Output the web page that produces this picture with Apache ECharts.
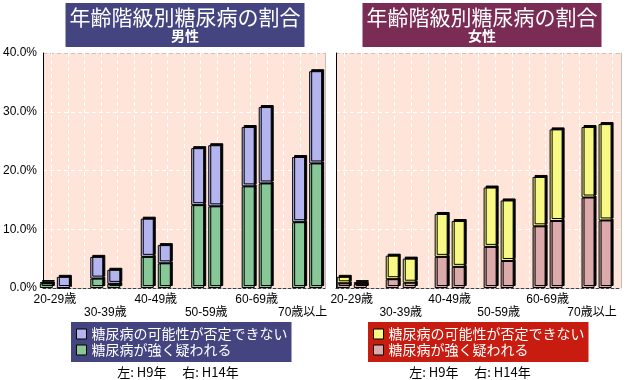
<!DOCTYPE html>
<html>
<head>
<meta charset="utf-8">
<script src="https://cdn.jsdelivr.net/npm/echarts@6/dist/echarts.min.js"></script>
<style>
html,body{margin:0;padding:0;background:#fff;}
#chart{width:628px;height:380px;}
</style>
</head>
<body>
<div id="chart"></div>
<script>
// ---- data (percent) ----
const categories = ['20-29歳', '30-39歳', '40-49歳', '50-59歳', '60-69歳', '70歳以上'];
const yTicks = [0, 10, 20, 30, 40];
// male (男性)
const maleStrongH9 = [0.8, 1.6, 5.3, 14.1, 17.3, 11.2];
const maleNotDeniedH9 = [0.2, 3.7, 6.5, 9.7, 10.1, 11.1];
const maleStrongH14 = [0, 0.7, 4.2, 13.9, 17.8, 21.2];
const maleNotDeniedH14 = [1.9, 2.4, 3.1, 10.4, 13.0, 15.7];
// female (女性)
const femaleStrongH9 = [0.8, 1.5, 5.3, 7.0, 10.5, 15.4];
const femaleNotDeniedH9 = [1.1, 4.0, 7.3, 10.1, 8.4, 12.0];
const femaleStrongH14 = [0.7, 0.9, 3.6, 4.6, 11.4, 11.5];
const femaleNotDeniedH14 = [0.3, 4.1, 7.8, 10.3, 15.6, 16.4];

const NAME_POSSIBLE = '糖尿病の可能性が否定できない';
const NAME_STRONG = '糖尿病が強く疑われる';
const TITLE = '年齢階級別糖尿病の割合';

const C = {
  bg: '#ffe4da',
  blue: '#b4b4ee',
  green: '#88c898',
  yellow: '#f8f884',
  pink: '#dcaaaa',
  boxBlue: '#444480',
  boxTitleRed: '#7a2c55',
  boxLegendRed: '#c81c10'
};
const FONT = "'Liberation Sans', 'Noto Sans CJK JP', sans-serif";
const JFONT = "'Noto Sans CJK JP', sans-serif";

const chart = echarts.init(document.getElementById('chart'), null, {renderer: 'canvas'});

function bgGrid(left, width) {
  return {left: left, top: 53, width: width, height: 235, show: true, backgroundColor: C.bg, borderWidth: 0, containLabel: false};
}
function barGrid(left, width) {
  return {left: left, top: 53, width: width, height: 235, show: false, containLabel: false};
}
function bgXAxis(gridIndex) {
  return {
    type: 'value', gridIndex: gridIndex, min: 0, max: 34, interval: 1,
    axisLabel: {show: false}, axisTick: {show: false},
    axisLine: {show: true, lineStyle: {color: '#404040', type: [3, 2], width: 1}},
    splitLine: {show: true, lineStyle: {color: ['rgba(0,0,0,0)', '#ffffff'], type: [4, 3], width: 1}}
  };
}
function barXAxis(gridIndex) {
  return {
    type: 'category', gridIndex: gridIndex, data: categories,
    axisLine: {show: false}, axisTick: {show: false},
    axisLabel: {
      interval: 0, margin: 5, fontSize: 12, lineHeight: 13, color: '#000', fontFamily: FONT,
      formatter: function (v, i) {
        const t = (i === categories.length - 1) ? '{s|' + v + '}' : v;
        return i % 2 ? '\n' + t : t;
      },
      rich: {s: {fontSize: 12, lineHeight: 13, color: '#000', fontFamily: FONT, padding: [0, 9, 0, 0]}}
    }
  };
}
function bgYAxis(gridIndex, labels) {
  return {
    type: 'value', gridIndex: gridIndex, min: yTicks[0], max: yTicks[yTicks.length - 1], interval: 10,
    axisLine: {show: true, lineStyle: {color: '#000', width: 1}},
    axisTick: {show: false},
    axisLabel: {show: labels, margin: 6, fontSize: 12, color: '#000', fontFamily: FONT,
      formatter: function (v) { return v.toFixed(1) + '%'; }},
    splitLine: {show: true, lineStyle: {color: ['rgba(0,0,0,0)', '#ffffff', '#ffffff', '#ffffff', '#c4c4c4'], type: [4, 3], width: 1}}
  };
}
function borderYAxis(gridIndex) {
  return {
    type: 'value', gridIndex: gridIndex, position: 'right', min: 0, max: 40, interval: 10,
    axisLine: {show: true, lineStyle: {color: '#c0c0c0', width: 1}},
    axisTick: {show: false}, axisLabel: {show: false}, splitLine: {show: false}
  };
}
function hiddenYAxis(gridIndex) {
  return {type: 'value', gridIndex: gridIndex, min: 0, max: 40, show: false, splitLine: {show: false}};
}

const barStyleBase = {borderColor: '#000', borderWidth: 1, shadowColor: '#000', shadowBlur: 0, shadowOffsetX: 2, shadowOffsetY: -2};
function barSeries(name, data, stack, color, xi, yi) {
  return {
    name: name, type: 'bar', stack: stack, data: data,
    xAxisIndex: xi, yAxisIndex: yi,
    barWidth: 13, barGap: '31%',
    itemStyle: Object.assign({color: color}, barStyleBase),
    emphasis: {disabled: true},
    animation: false
  };
}

const legendItemStyle = {borderColor: '#000', borderWidth: 1, shadowBlur: 0, shadowOffsetX: 0, shadowOffsetY: 0, shadowColor: 'rgba(0,0,0,0)'};
function legend(left, bg, cPossible, cStrong) {
  return {
    orient: 'vertical', left: left, top: 322,
    backgroundColor: bg, padding: [5, 4, 5, 5],
    itemWidth: 10, itemHeight: 10, itemGap: 2, icon: 'rect', selectedMode: false,
    textStyle: {color: '#fff', fontSize: 14, lineHeight: 14, fontFamily: JFONT},
    itemStyle: legendItemStyle,
    data: [
      {name: NAME_POSSIBLE, itemStyle: Object.assign({color: cPossible}, legendItemStyle)},
      {name: NAME_STRONG, itemStyle: Object.assign({color: cStrong}, legendItemStyle)}
    ]
  };
}
function titleBox(center, bg, sub) {
  return {
    left: center, top: 3, textAlign: 'center',
    text: TITLE, subtext: sub, itemGap: 0,
    backgroundColor: bg, padding: [3, 4, 3, 4],
    textStyle: {color: '#fff', fontSize: 21, lineHeight: 22, fontWeight: 'normal', fontFamily: JFONT},
    subtextStyle: {color: '#fff', fontSize: 14, lineHeight: 16, fontWeight: 'bold', fontFamily: JFONT}
  };
}
function note(center) {
  return {
    left: center, top: 366, textAlign: 'center', text: '左: H9年　 右: H14年',
    padding: 0,
    textStyle: {color: '#000', fontSize: 13, fontWeight: 'normal', fontFamily: JFONT}
  };
}

const option = {
  animation: false,
  backgroundColor: '#ffffff',
  title: [titleBox(181, C.boxBlue, '男性'), titleBox(478, C.boxTitleRed, '女性'), note(178), note(470)],
  legend: [legend(71, C.boxBlue, C.blue, C.green), legend(368, C.boxLegendRed, C.yellow, C.pink)],
  grid: [bgGrid(39, 286), barGrid(29.6, 302.8), bgGrid(336, 285), barGrid(327.3, 302.4)],
  xAxis: [bgXAxis(0), barXAxis(1), bgXAxis(2), barXAxis(3)],
  yAxis: [bgYAxis(0, true), hiddenYAxis(1), bgYAxis(2, false), hiddenYAxis(3), borderYAxis(0), borderYAxis(2)],
  series: [
    barSeries(NAME_STRONG, maleStrongH9, 'm9', C.green, 1, 1),
    barSeries(NAME_POSSIBLE, maleNotDeniedH9, 'm9', C.blue, 1, 1),
    barSeries(NAME_STRONG, maleStrongH14, 'm14', C.green, 1, 1),
    barSeries(NAME_POSSIBLE, maleNotDeniedH14, 'm14', C.blue, 1, 1),
    barSeries(NAME_STRONG, femaleStrongH9, 'f9', C.pink, 3, 3),
    barSeries(NAME_POSSIBLE, femaleNotDeniedH9, 'f9', C.yellow, 3, 3),
    barSeries(NAME_STRONG, femaleStrongH14, 'f14', C.pink, 3, 3),
    barSeries(NAME_POSSIBLE, femaleNotDeniedH14, 'f14', C.yellow, 3, 3)
  ]
};
chart.setOption(option);
</script>
</body>
</html>
